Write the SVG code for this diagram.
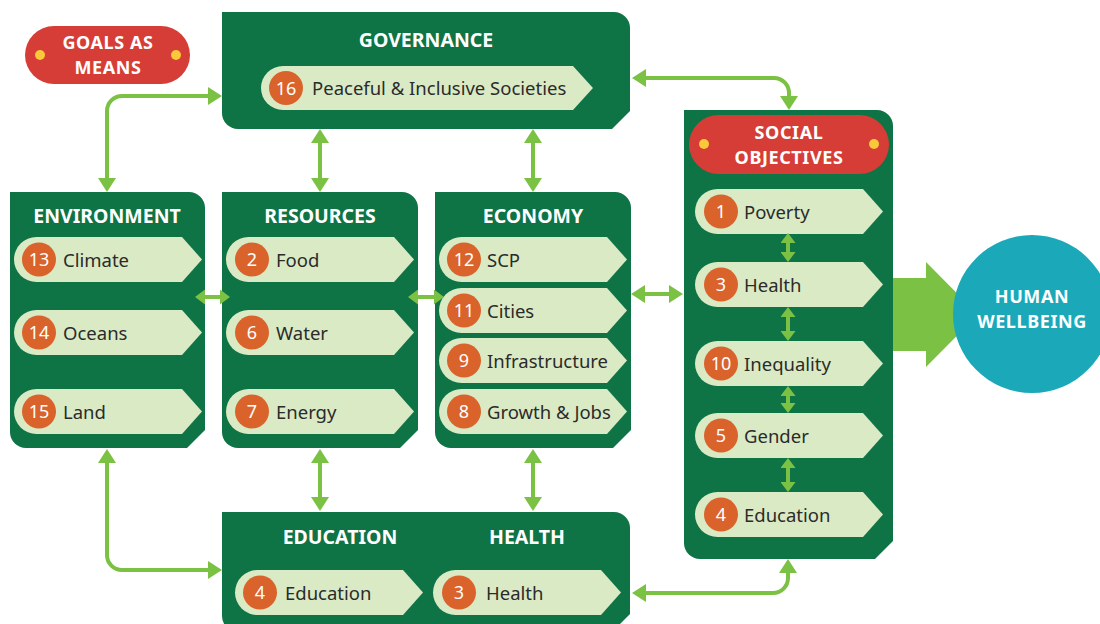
<svg xmlns="http://www.w3.org/2000/svg" xmlns:xlink="http://www.w3.org/1999/xlink" width="1100" height="624" viewBox="0 0 1100 624">
<style>
.box{fill:#0E7345}
.pill{fill:#DAEAC5}
.num{fill:#D9632A}
.numt{fill:#fff;font-family:"Noto Sans",sans-serif;font-size:18px;text-anchor:middle;dominant-baseline:central}
.lbl{fill:#2B2B2B;font-family:"Noto Sans",sans-serif;font-size:18.5px;dominant-baseline:central}
.hdr{fill:#fff;font-family:"Noto Sans",sans-serif;font-weight:700;font-size:19.5px;text-anchor:middle;dominant-baseline:central}
.hdr2{fill:#fff;font-family:"Noto Sans",sans-serif;font-weight:700;font-size:18px;letter-spacing:0.6px;text-anchor:middle;dominant-baseline:central}
.con{fill:none;stroke:#7BC143;stroke-width:4}
.badge{fill:#D63D36}
.dot{fill:#F9C93A}
</style>
<defs>
<path id="pl" d="M22.5,0 H168 L188,22.5 L168,45 H22.5 A22.5,22.5 0 0 1 22.5,0 Z"/>
<marker id="ah" viewBox="0 0 14 18" refX="4" refY="9" markerWidth="14" markerHeight="18" markerUnits="userSpaceOnUse" orient="auto-start-reverse">
<path d="M0,0 L14,9 L0,18 Z" fill="#7BC143"/>
</marker>
<marker id="ahs" viewBox="0 0 10 15" refX="2" refY="7.5" markerWidth="10" markerHeight="15" markerUnits="userSpaceOnUse" orient="auto-start-reverse">
<path d="M0,0 L10,7.5 L0,15 Z" fill="#7BC143"/>
</marker>
</defs>

<g id="goals-as-means">
<rect class="badge" x="25" y="26" width="165" height="58" rx="29"/>
<circle class="dot" cx="40" cy="55" r="5"/>
<circle class="dot" cx="176" cy="55" r="5"/>
<text class="hdr2" y="42"><tspan x="108">GOALS AS</tspan><tspan x="108" dy="25">MEANS</tspan></text>
</g>

<g id="governance">
<path class="box" d="M222,12 H614 A16,16 0 0 1 630,28 V111 L612,129 H238 A16,16 0 0 1 222,113 Z"/>
<text class="hdr" x="426" y="39">GOVERNANCE</text>
<path class="pill" d="M283,66 H573 L593,88 L573,110 H283 A22,22 0 0 1 283,66 Z"/>
<circle class="num" cx="286" cy="88" r="17"/>
<text class="numt" x="286" y="87.5">16</text>
<text class="lbl" x="312" y="87.5">Peaceful &amp; Inclusive Societies</text>
</g>

<g id="environment">
<path class="box" d="M10,192 H189 A16,16 0 0 1 205,208 V430 L187,448 H26 A16,16 0 0 1 10,432 Z"/>
<text class="hdr" x="107" y="215">ENVIRONMENT</text>
<g transform="translate(14,237)"><use xlink:href="#pl" class="pill"/><circle class="num" cx="25" cy="22.5" r="17"/><text class="numt" x="25" y="22">13</text><text class="lbl" x="49" y="22">Climate</text></g>
<g transform="translate(14,310)"><use xlink:href="#pl" class="pill"/><circle class="num" cx="25" cy="22.5" r="17"/><text class="numt" x="25" y="22">14</text><text class="lbl" x="49" y="22">Oceans</text></g>
<g transform="translate(14,389)"><use xlink:href="#pl" class="pill"/><circle class="num" cx="25" cy="22.5" r="17"/><text class="numt" x="25" y="22">15</text><text class="lbl" x="49" y="22">Land</text></g>
</g>

<g id="resources">
<path class="box" d="M222,192 H402 A16,16 0 0 1 418,208 V430 L400,448 H238 A16,16 0 0 1 222,432 Z"/>
<text class="hdr" x="320" y="215">RESOURCES</text>
<g transform="translate(226,237)"><use xlink:href="#pl" class="pill"/><circle class="num" cx="26" cy="22.5" r="17"/><text class="numt" x="26" y="22">2</text><text class="lbl" x="50" y="22">Food</text></g>
<g transform="translate(226,310)"><use xlink:href="#pl" class="pill"/><circle class="num" cx="26" cy="22.5" r="17"/><text class="numt" x="26" y="22">6</text><text class="lbl" x="50" y="22">Water</text></g>
<g transform="translate(226,389)"><use xlink:href="#pl" class="pill"/><circle class="num" cx="26" cy="22.5" r="17"/><text class="numt" x="26" y="22">7</text><text class="lbl" x="50" y="22">Energy</text></g>
</g>

<g id="economy">
<path class="box" d="M435,192 H615 A16,16 0 0 1 631,208 V430 L613,448 H451 A16,16 0 0 1 435,432 Z"/>
<text class="hdr" x="533" y="215">ECONOMY</text>
<g transform="translate(439,237)"><use xlink:href="#pl" class="pill"/><circle class="num" cx="25" cy="22.5" r="17"/><text class="numt" x="25" y="22">12</text><text class="lbl" x="48" y="22">SCP</text></g>
<g transform="translate(439,288)"><use xlink:href="#pl" class="pill"/><circle class="num" cx="25" cy="22.5" r="17"/><text class="numt" x="25" y="22">11</text><text class="lbl" x="48" y="22">Cities</text></g>
<g transform="translate(439,338)"><use xlink:href="#pl" class="pill"/><circle class="num" cx="25" cy="22.5" r="17"/><text class="numt" x="25" y="22">9</text><text class="lbl" x="48" y="22">Infrastructure</text></g>
<g transform="translate(439,389)"><use xlink:href="#pl" class="pill"/><circle class="num" cx="25" cy="22.5" r="17"/><text class="numt" x="25" y="22">8</text><text class="lbl" x="48" y="22">Growth &amp; Jobs</text></g>
</g>

<g id="education-health">
<path class="box" d="M222,512 H614 A16,16 0 0 1 630,528 V614 L612,632 H238 A16,16 0 0 1 222,616 Z"/>
<text class="hdr" x="340" y="536">EDUCATION</text>
<text class="hdr" x="527" y="536">HEALTH</text>
<g transform="translate(235,570)"><use xlink:href="#pl" class="pill"/><circle class="num" cx="25" cy="22.5" r="17"/><text class="numt" x="25" y="22">4</text><text class="lbl" x="50" y="22">Education</text></g>
<g transform="translate(433,570)"><use xlink:href="#pl" class="pill"/><circle class="num" cx="26" cy="22.5" r="17"/><text class="numt" x="26" y="22">3</text><text class="lbl" x="53" y="22">Health</text></g>
</g>

<g id="social-objectives">
<path class="box" d="M684,110 H877 A16,16 0 0 1 893,126 V541 L875,559 H700 A16,16 0 0 1 684,543 Z"/>
<rect class="badge" x="689" y="115" width="200" height="59" rx="29.5"/>
<circle class="dot" cx="704" cy="144" r="5"/>
<circle class="dot" cx="874" cy="144" r="5"/>
<text class="hdr2" y="132"><tspan x="789">SOCIAL</tspan><tspan x="789" dy="25">OBJECTIVES</tspan></text>
<g transform="translate(695,189)"><use xlink:href="#pl" class="pill"/><circle class="num" cx="26" cy="22.5" r="17"/><text class="numt" x="26" y="22">1</text><text class="lbl" x="49" y="22">Poverty</text></g>
<g transform="translate(695,262)"><use xlink:href="#pl" class="pill"/><circle class="num" cx="26" cy="22.5" r="17"/><text class="numt" x="26" y="22">3</text><text class="lbl" x="49" y="22">Health</text></g>
<g transform="translate(695,341)"><use xlink:href="#pl" class="pill"/><circle class="num" cx="26" cy="22.5" r="17"/><text class="numt" x="26" y="22">10</text><text class="lbl" x="49" y="22">Inequality</text></g>
<g transform="translate(695,413)"><use xlink:href="#pl" class="pill"/><circle class="num" cx="26" cy="22.5" r="17"/><text class="numt" x="26" y="22">5</text><text class="lbl" x="49" y="22">Gender</text></g>
<g transform="translate(695,492)"><use xlink:href="#pl" class="pill"/><circle class="num" cx="26" cy="22.5" r="17"/><text class="numt" x="26" y="22">4</text><text class="lbl" x="49" y="22">Education</text></g>
</g>

<g id="connectors">
<path class="con" marker-start="url(#ah)" marker-end="url(#ah)" d="M107,182 V111 A15,15 0 0 1 122,96 H212"/>
<path class="con" marker-start="url(#ah)" marker-end="url(#ah)" d="M320,139 V182"/>
<path class="con" marker-start="url(#ah)" marker-end="url(#ah)" d="M533,139 V182"/>
<path class="con" marker-start="url(#ah)" marker-end="url(#ah)" d="M642,78 H774 A15,15 0 0 1 789,93 V100"/>
<path class="con" marker-start="url(#ahs)" marker-end="url(#ahs)" d="M203,297 H222"/>
<path class="con" marker-start="url(#ahs)" marker-end="url(#ahs)" d="M416,297 H436"/>
<path class="con" marker-start="url(#ah)" marker-end="url(#ah)" d="M641,294 H673"/>
<path class="con" marker-start="url(#ah)" marker-end="url(#ah)" d="M107,459 V555 A15,15 0 0 0 122,570 H212"/>
<path class="con" marker-start="url(#ah)" marker-end="url(#ah)" d="M320,459 V501"/>
<path class="con" marker-start="url(#ah)" marker-end="url(#ah)" d="M533,459 V501"/>
<path class="con" marker-start="url(#ah)" marker-end="url(#ah)" d="M642,593 H773 A15,15 0 0 0 788,578 V569"/>
<path class="con" marker-start="url(#ahs)" marker-end="url(#ahs)" d="M788,241 V254"/>
<path class="con" marker-start="url(#ahs)" marker-end="url(#ahs)" d="M788,315 V333"/>
<path class="con" marker-start="url(#ahs)" marker-end="url(#ahs)" d="M788,394 V405"/>
<path class="con" marker-start="url(#ahs)" marker-end="url(#ahs)" d="M788,466 V484"/>
<path d="M893,278 H926 V262 L978,314.5 L926,367 V351 H893 Z" fill="#7BC143"/>
</g>

<g id="human-wellbeing">
<circle cx="1032" cy="314" r="79" fill="#1BA9B9"/>
<text class="hdr2" y="296"><tspan x="1032">HUMAN</tspan><tspan x="1032" dy="25">WELLBEING</tspan></text>
</g>
</svg>
